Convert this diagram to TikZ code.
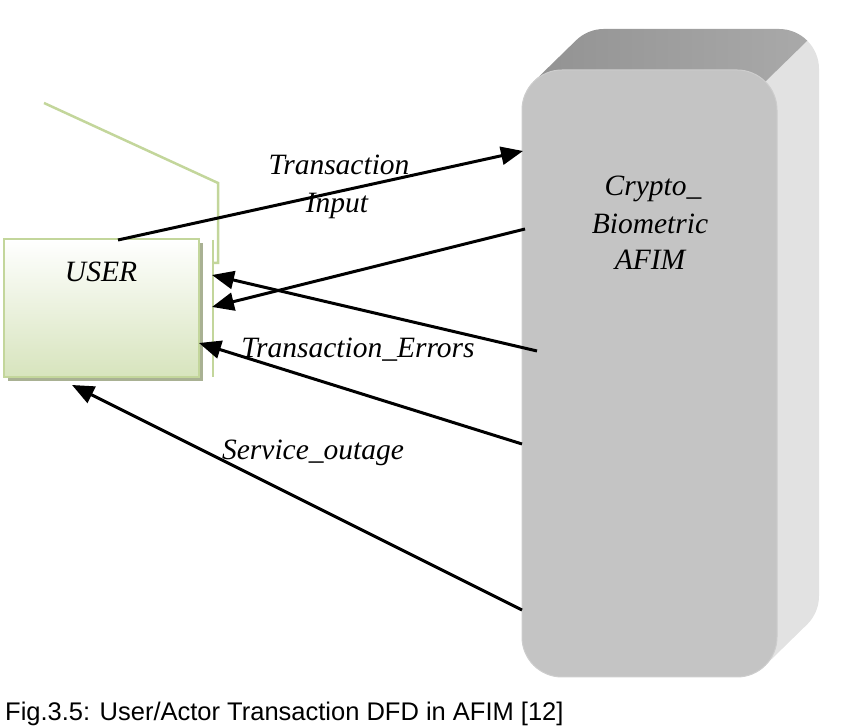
\documentclass[tikz,border=0pt]{standalone}
\usepackage{fontspec}
\setmainfont{Liberation Serif}
\newfontfamily\capfont{Liberation Sans}
\usetikzlibrary{arrows.meta,shadings}
\definecolor{grn}{HTML}{C3D69B}
\definecolor{grnfill}{HTML}{D7E4BD}
\definecolor{grnshadow}{HTML}{A9B193}
\definecolor{frontgray}{HTML}{C4C4C4}
\definecolor{topgray}{HTML}{9A9A9A}
\definecolor{sidegray}{HTML}{E2E2E2}
\tikzset{
  lbl/.style={font=\itshape\fontsize{29.5}{35}\selectfont, anchor=base, inner sep=0pt},
  flow/.style={line width=3pt, -{Triangle[length=22pt,width=18pt]}},
  greenline/.style={draw=grn, line width=2.5pt}
}
\begin{document}
\begin{tikzpicture}[x=1pt,y=1pt]
\useasboundingbox (0,0) rectangle (859,727);
% 3D process box
\fill[sidegray] (765.3,645.3) -- (807.3,686.3) arc[start angle=45,end angle=0,radius=40] -- (819,131) arc[start angle=0,end angle=-45,radius=40] -- (765.3,61.7) -- cycle;
\shade[left color=topgray!95!black, right color=topgray!85!white] (533.7,645.3) -- (575.7,686.3) arc[start angle=135,end angle=90,radius=40] -- (779,698) arc[start angle=90,end angle=45,radius=40] -- (765.3,645.3) -- cycle;
\node[draw=frontgray!85!white, line width=1pt, fill=frontgray, rounded corners=40pt, minimum width=255pt, minimum height=607pt, inner sep=0pt] (afim) at (649.5,353.5) {};
% user box
\fill[grnshadow] (8,346) rectangle (203,484);
\node[draw=grn, line width=2.5pt, top color=white, bottom color=grnfill, minimum width=195pt, minimum height=138pt, inner sep=0pt] (user) at (101.5,419) {};
% green lines
\draw[greenline] (44,624) -- (218,544) -- (218,464) -- (214,464);
\draw[greenline] (213,487) -- (213,350);
% texts
\node[lbl] (tuser) at (101,445) {USER};
\node[lbl] (tc1) at (653,531) {Crypto\_};
\node[lbl] (tc2) at (650,493) {Biometric};
\node[lbl] (tc3) at (650,457) {AFIM};
\node[lbl] (tti) at (339,552) {Transaction};
\node[lbl] (tin) at (337,514) {Input};
\node[lbl] (terr) at (358,369) {Transaction\_Errors};
\node[lbl] (tout) at (313,267) {Service\_outage};
% connector endpoints
\coordinate (a1s) at (118,487);
\coordinate (a1e) at (523,576);
\coordinate (a2s) at (525,498);
\coordinate (a2e) at (212,420);
\coordinate (a3s) at (537,376);
\coordinate (a3e) at (212,452);
\coordinate (a4s) at (522,283);
\coordinate (a4e) at (199,384);
\coordinate (a5s) at (522,117);
\coordinate (a5e) at (72,342);
\draw[flow] (a1s) -- (a1e);
\draw[flow] (a2s) -- (a2e);
\draw[flow] (a3s) -- (a3e);
\draw[flow] (a4s) -- (a4e);
\draw[flow] (a5s) -- (a5e);
% caption
\node[font=\capfont\fontsize{25.5}{30}\selectfont, anchor=base west, inner sep=0pt] (cap) at (5,6) {Fig.3.5: User/Actor Transaction DFD in AFIM [12]};
\end{tikzpicture}
\end{document}
